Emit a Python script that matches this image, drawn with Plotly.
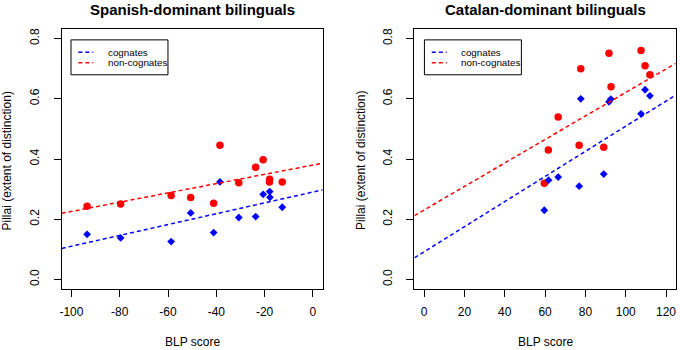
import plotly.graph_objects as go

# ---------------- data ----------------
spa_blp_noncog = [-93.5, -79.6, -58.7, -50.6, -41.1, -38.5, -30.7, -23.7, -20.6, -17.9, -18.0, -12.7]
spa_pillai_noncog = [0.243, 0.251, 0.279, 0.272, 0.253, 0.446, 0.321, 0.373, 0.398, 0.333, 0.324, 0.324]
spa_blp_cog = [-93.5, -79.6, -58.7, -50.6, -41.1, -38.5, -30.7, -23.7, -20.6, -17.9, -17.8, -12.7]
spa_pillai_cog = [0.150, 0.138, 0.126, 0.221, 0.156, 0.324, 0.206, 0.209, 0.283, 0.292, 0.273, 0.240]

cat_blp_noncog = [59.6, 61.6, 66.5, 76.9, 77.7, 89.1, 91.7, 92.7, 107.6, 109.6, 112.0]
cat_pillai_noncog = [0.320, 0.430, 0.540, 0.446, 0.700, 0.439, 0.751, 0.640, 0.760, 0.710, 0.680]
cat_blp_cog = [59.6, 61.7, 66.5, 76.9, 77.7, 89.1, 91.7, 92.6, 107.6, 109.6, 112.0]
cat_pillai_cog = [0.230, 0.330, 0.340, 0.310, 0.600, 0.350, 0.590, 0.599, 0.550, 0.630, 0.610]

# fitted regression lines (intercept, slope)
spa_fit_cog = (0.2905, 0.0018)
spa_fit_noncog = (0.380, 0.00154)
cat_fit_cog = (0.092, 0.00417)
cat_fit_noncog = (0.231, 0.0039)

spa_xticks = [-100, -80, -60, -40, -20, 0]
spa_xticklabels = ["-100", "-80", "-60", "-40", "-20", "0"]
cat_xticks = [0, 20, 40, 60, 80, 100, 120]
cat_xticklabels = ["0", "20", "40", "60", "80", "100", "120"]
y_ticks = [0.0, 0.2, 0.4, 0.6, 0.8]
y_ticklabels = ["0.0", "0.2", "0.4", "0.6", "0.8"]

titles = ["Spanish-dominant bilinguals", "Catalan-dominant bilinguals"]
legend_labels = ["cognates", "non-cognates"]
x_title = "BLP score"
y_title = "Pillai (extent of distinction)"

spa_xrange = [-104, 4]
cat_xrange = [-4.8, 124.8]
y_range = [-0.032, 0.832]

# ---------------- layout helpers ----------------
W, H = 680, 350
def px(x):
    return x / W
def py(y):
    return 1 - y / H

RED = "#FF0000"
BLUE = "#0000FF"
FONT = "Liberation Sans, Arial, sans-serif"

fig = go.Figure()

panels = [
    dict(xa="x", ya="y", xr=spa_xrange,
         nc=(spa_blp_noncog, spa_pillai_noncog), c=(spa_blp_cog, spa_pillai_cog),
         fc=spa_fit_cog, fn=spa_fit_noncog),
    dict(xa="x2", ya="y2", xr=cat_xrange,
         nc=(cat_blp_noncog, cat_pillai_noncog), c=(cat_blp_cog, cat_pillai_cog),
         fc=cat_fit_cog, fn=cat_fit_noncog),
]

for p in panels:
    fig.add_trace(go.Scatter(x=p["nc"][0], y=p["nc"][1], mode="markers",
                             marker=dict(symbol="circle", size=7.5, color=RED, line=dict(width=0)),
                             xaxis=p["xa"], yaxis=p["ya"], showlegend=False))
    fig.add_trace(go.Scatter(x=p["c"][0], y=p["c"][1], mode="markers",
                             marker=dict(symbol="diamond", size=6, color=BLUE, line=dict(width=0)),
                             xaxis=p["xa"], yaxis=p["ya"], showlegend=False))
    for (a, b), col in ((p["fc"], BLUE), (p["fn"], RED)):
        xs = p["xr"]
        fig.add_trace(go.Scatter(x=xs, y=[a + b * v for v in xs], mode="lines",
                                 line=dict(color=col, width=1.5, dash="4px,3px"),
                                 xaxis=p["xa"], yaxis=p["ya"], showlegend=False,
                                 hoverinfo="skip"))

ax_common = dict(showline=True, mirror=True, linecolor="black", linewidth=1,
                 ticks="outside", ticklen=7, tickcolor="black", tickwidth=1,
                 showgrid=False, zeroline=False,
                 tickfont=dict(family=FONT, size=12, color="black"))

yd = [py(289), py(28)]
fig.update_layout(
    width=W, height=H, margin=dict(l=0, r=0, t=0, b=0),
    paper_bgcolor="white", plot_bgcolor="white", showlegend=False,
    xaxis=dict(domain=[px(60), px(322)], range=spa_xrange, tickvals=spa_xticks,
               ticktext=spa_xticklabels, anchor="y", ticklabelstandoff=4, **ax_common),
    yaxis=dict(domain=yd, range=y_range, tickvals=y_ticks, ticktext=y_ticklabels,
               tickangle=-90, anchor="x", ticklabelstandoff=10, **ax_common),
    xaxis2=dict(domain=[px(414.3), px(676.7)], range=cat_xrange, tickvals=cat_xticks,
                ticktext=cat_xticklabels, anchor="y2", ticklabelstandoff=4, **ax_common),
    yaxis2=dict(domain=yd, range=y_range, tickvals=y_ticks, ticktext=y_ticklabels,
                tickangle=-90, anchor="x2", ticklabelstandoff=10, **ax_common),
)

annotations = []
shapes = []
for i, (cx, box_l, ytitle_x) in enumerate([(191, 69.3, 5), (545.5, 424.3, 360)]):
    annotations.append(dict(text="<b>%s</b>" % titles[i], x=px(cx), y=py(9), xref="paper", yref="paper",
                            showarrow=False, xanchor="center", yanchor="middle",
                            font=dict(family=FONT, size=15, color="black")))
    annotations.append(dict(text=x_title, x=px(cx), y=py(342), xref="paper", yref="paper",
                            showarrow=False, xanchor="center", yanchor="middle",
                            font=dict(family=FONT, size=12, color="black")))
    annotations.append(dict(text=y_title, x=px(ytitle_x), y=py(160), xref="paper", yref="paper",
                            showarrow=False, xanchor="center", yanchor="middle", textangle=-90,
                            font=dict(family=FONT, size=12, color="black")))
    # legend box
    shapes.append(dict(type="rect", xref="paper", yref="paper",
                       x0=px(box_l), x1=px(box_l + 97.4), y0=py(39), y1=py(74),
                       line=dict(color="black", width=1), fillcolor="white", layer="above"))
    for j, (col, ly) in enumerate(((BLUE, 51.3), (RED, 62.0))):
        shapes.append(dict(type="line", xref="paper", yref="paper",
                           x0=px(box_l + 7.4), x1=px(box_l + 22.4), y0=py(ly), y1=py(ly),
                           line=dict(color=col, width=1.5, dash="4px,3px"), layer="above"))
        annotations.append(dict(text=legend_labels[j], x=px(box_l + 34.7), y=py(ly), xref="paper",
                                yref="paper", showarrow=False, xanchor="left", yanchor="middle",
                                font=dict(family=FONT, size=9.8, color="black")))

fig.update_layout(annotations=annotations, shapes=shapes)
fig.write_html("out.html", config={"displayModeBar": False},
               post_script="document.body.style.margin='0';document.body.style.padding='0';"
                           "document.documentElement.style.margin='0';")
